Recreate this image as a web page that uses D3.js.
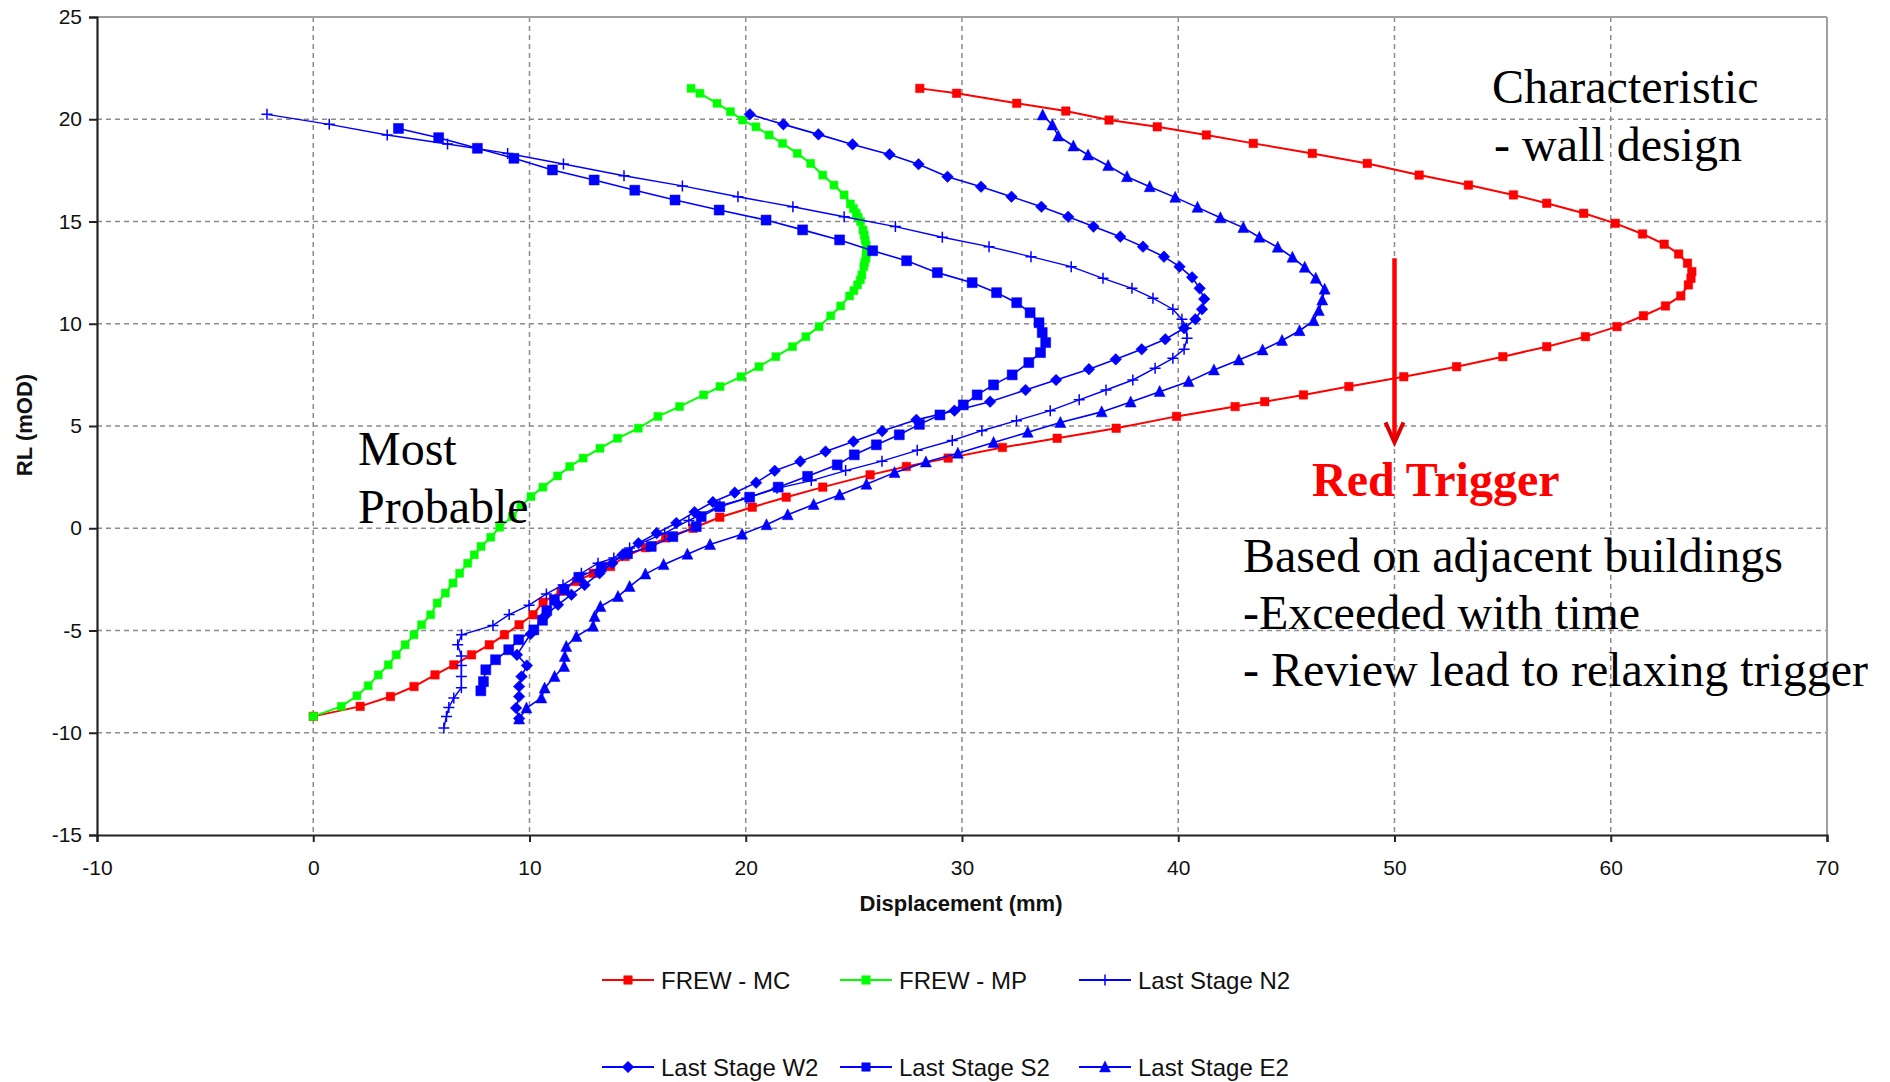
<!DOCTYPE html>
<html><head><meta charset="utf-8">
<script src="https://cdn.jsdelivr.net/npm/d3@7"></script>
<style>body{margin:0;background:#fff}svg{display:block}</style>
</head><body><svg id="c" width="1890" height="1082"></svg>
<script>
// ---------- DATA ----------
const xTicks = [-10,0,10,20,30,40,50,60,70];
const yTicks = [-15,-10,-5,0,5,10,15,20,25];

const seriesNames = ["FREW - MC","FREW - MP","Last Stage N2","Last Stage W2","Last Stage S2","Last Stage E2"];

// [displacement (mm), RL (mOD)]
const frewMC = [[0,-9.2],[2.17,-8.71],[3.57,-8.23],[4.66,-7.74],[5.63,-7.17],[6.5,-6.68],[7.32,-6.19],[8.14,-5.7],[8.84,-5.21],[9.52,-4.72],[10.16,-4.23],[10.63,-3.62],[11.46,-3.08],[12.17,-2.6],[12.95,-2.2],[13.75,-1.87],[14.42,-1.38],[15.36,-0.95],[16.3,-0.47],[17.56,0.0],[18.8,0.54],[20.3,1.03],[21.87,1.52],[23.56,2.01],[25.75,2.61],[27.43,3.02],[29.36,3.43],[31.87,3.95],[34.4,4.4],[37.13,4.89],[39.92,5.47],[42.63,5.95],[44.0,6.19],[45.79,6.52],[47.89,6.93],[50.43,7.41],[52.87,7.9],[55.01,8.39],[57.04,8.88],[58.83,9.37],[60.29,9.86],[61.51,10.39],[62.53,10.87],[63.24,11.36],[63.59,11.9],[63.71,12.22],[63.75,12.55],[63.55,12.96],[63.14,13.41],[62.47,13.89],[61.47,14.39],[60.21,14.91],[58.75,15.4],[57.04,15.89],[55.5,16.3],[53.42,16.78],[51.14,17.27],[48.74,17.84],[46.2,18.33],[43.47,18.82],[41.3,19.23],[39.03,19.63],[36.8,19.96],[34.8,20.4],[32.53,20.78],[29.75,21.27],[28.05,21.51]];

const frewMP = [[0,-9.2],[1.3,-8.71],[2.02,-8.19],[2.54,-7.7],[3.01,-7.17],[3.47,-6.68],[3.84,-6.19],[4.25,-5.7],[4.66,-5.21],[5.01,-4.72],[5.43,-4.23],[5.73,-3.66],[6.11,-3.17],[6.46,-2.68],[6.77,-2.2],[7.14,-1.71],[7.45,-1.3],[7.76,-0.89],[8.21,-0.44],[8.62,0.05],[9.2,0.57],[9.6,1.06],[10.07,1.55],[10.62,2.01],[11.3,2.56],[11.86,3.02],[12.48,3.43],[13.26,3.91],[14.07,4.4],[15.03,4.89],[15.94,5.47],[16.94,5.95],[18.05,6.52],[18.81,6.93],[19.78,7.41],[20.61,7.9],[21.39,8.39],[22.16,8.88],[22.78,9.37],[23.39,9.86],[23.93,10.39],[24.39,10.87],[24.8,11.36],[25.0,11.62],[25.17,11.9],[25.3,12.15],[25.37,12.39],[25.46,12.79],[25.5,13.0],[25.56,13.2],[25.57,13.4],[25.58,13.61],[25.57,13.85],[25.52,14.1],[25.48,14.35],[25.42,14.58],[25.31,14.99],[25.2,15.2],[25.11,15.4],[24.98,15.63],[24.84,15.86],[24.55,16.3],[24.08,16.78],[23.56,17.27],[23.0,17.84],[22.38,18.33],[21.7,18.82],[21.08,19.23],[20.47,19.63],[19.85,19.96],[19.29,20.37],[18.67,20.78],[17.88,21.27],[17.47,21.51]];

const stageN2 = [[-2.14,20.24],[0.74,19.75],[3.42,19.23],[6.21,18.79],[8.99,18.33],[11.57,17.81],[14.37,17.24],[17.07,16.74],[19.64,16.21],[22.18,15.72],[24.55,15.23],[26.92,14.75],[29.09,14.23],[31.25,13.77],[33.19,13.28],[35.05,12.79],[36.52,12.22],[37.86,11.73],[38.83,11.25],[39.75,10.71],[40.17,10.22],[40.37,9.78],[40.41,9.29],[40.27,8.75],[39.75,8.31],[38.93,7.83],[37.9,7.25],[36.66,6.76],[35.42,6.28],[34.08,5.75],[32.52,5.26],[30.92,4.77],[29.55,4.29],[27.93,3.81],[26.3,3.28],[24.62,2.82],[23.03,2.33],[21.45,1.95],[20.04,1.47],[18.8,1.1],[17.37,0.38],[16.25,-0.24],[14.63,-0.97],[13.9,-1.45],[13.17,-1.71],[12.4,-2.2],[11.55,-2.77],[10.78,-3.21],[9.98,-3.76],[9.06,-4.22],[8.31,-4.75],[6.86,-5.21],[6.68,-5.7],[6.85,-6.25],[6.85,-6.71],[6.85,-7.25],[6.85,-7.8],[6.5,-8.3],[6.27,-8.77],[6.16,-9.2],[6.04,-9.77]];

const stageW2 = [[20.19,20.24],[21.74,19.75],[23.36,19.26],[24.94,18.77],[26.65,18.28],[27.99,17.8],[29.33,17.19],[30.88,16.7],[32.29,16.21],[33.67,15.72],[34.91,15.23],[36.08,14.75],[37.32,14.26],[38.37,13.77],[39.34,13.28],[40.06,12.79],[40.64,12.27],[40.99,11.73],[41.2,11.21],[41.1,10.71],[40.79,10.22],[40.27,9.78],[39.4,9.24],[38.31,8.75],[37.11,8.26],[35.87,7.78],[34.35,7.25],[32.94,6.76],[31.3,6.19],[29.65,5.75],[27.89,5.3],[26.31,4.75],[24.98,4.24],[23.69,3.75],[22.52,3.27],[21.34,2.81],[20.48,2.23],[19.49,1.74],[18.48,1.28],[17.63,0.79],[16.79,0.26],[15.88,-0.24],[15.04,-0.73],[14.3,-1.3],[13.83,-1.71],[13.24,-2.2],[12.55,-2.77],[11.94,-3.25],[11.32,-3.74],[10.7,-4.3],[10.05,-5.17],[9.42,-6.19],[9.88,-6.71],[9.63,-7.25],[9.52,-7.74],[9.52,-8.23],[9.38,-8.79],[9.52,-9.3]];

const stageS2 = [[3.94,19.55],[5.8,19.1],[7.59,18.58],[9.28,18.09],[11.06,17.52],[12.99,17.03],[14.87,16.53],[16.73,16.05],[18.77,15.56],[20.94,15.07],[22.63,14.59],[24.34,14.1],[25.87,13.57],[27.44,13.08],[28.86,12.5],[30.47,12.01],[31.6,11.52],[32.53,11.03],[33.15,10.54],[33.56,10.05],[33.71,9.57],[33.87,9.08],[33.63,8.59],[33.09,8.1],[32.32,7.5],[31.46,7.01],[30.7,6.52],[30.06,6.03],[28.98,5.54],[28.03,5.08],[27.1,4.57],[26.04,4.08],[25.02,3.59],[24.23,3.1],[22.86,2.54],[21.5,2.01],[20.18,1.52],[18.8,1.05],[17.94,0.57],[17.71,0.08],[16.63,-0.41],[15.63,-0.89],[14.53,-1.25],[13.32,-1.9],[12.28,-2.4],[11.6,-3.0],[11.15,-3.5],[10.8,-4.03],[10.6,-4.5],[10.2,-4.97],[9.5,-5.45],[9.04,-5.94],[8.43,-6.43],[7.98,-6.92],[7.87,-7.5],[7.75,-7.95]];

const stageE2 = [[33.73,20.21],[34.18,19.72],[34.45,19.18],[35.15,18.69],[35.83,18.25],[36.76,17.73],[37.63,17.19],[38.68,16.7],[39.86,16.18],[40.89,15.69],[41.95,15.18],[43.01,14.7],[43.75,14.23],[44.6,13.74],[45.28,13.25],[45.85,12.76],[46.36,12.22],[46.77,11.69],[46.66,11.16],[46.5,10.64],[46.26,10.15],[45.61,9.66],[44.8,9.18],[43.9,8.72],[42.8,8.23],[41.65,7.74],[40.48,7.17],[39.14,6.68],[37.8,6.17],[36.46,5.69],[34.55,5.17],[33.04,4.69],[31.46,4.19],[29.81,3.67],[28.33,3.24],[26.88,2.72],[25.58,2.15],[24.34,1.63],[23.14,1.16],[21.94,0.66],[20.96,0.17],[19.83,-0.29],[18.35,-0.8],[17.3,-1.27],[16.2,-1.78],[15.36,-2.24],[14.63,-2.85],[14.09,-3.34],[13.28,-3.83],[13.01,-4.32],[12.94,-4.8],[12.17,-5.29],[11.7,-5.78],[11.63,-6.27],[11.6,-6.76],[11.16,-7.25],[10.7,-7.82],[10.55,-8.3],[9.86,-8.79],[9.52,-9.33]];

// Red trigger arrow: displacement 50 mm, from RL 13.2 down to 4.2
const triggerX = 50, triggerTop = 13.2, triggerBottom = 4.2;

// ---------- CHART ----------
const svg = d3.select("#c");
const x = d3.scaleLinear().domain([-10,70]).range([97,1827]);
const y = d3.scaleLinear().domain([-15,25]).range([835,17]);

const data = [frewMC, frewMP, stageN2, stageW2, stageS2, stageE2];
const styles = [
  {color:"#ff0000", lw:2,   marker:"sq",   size:8.5},
  {color:"#00ff00", lw:2,   marker:"sq",   size:8},
  {color:"#0000ff", lw:1.4, marker:"plus", size:5.5},
  {color:"#0000ff", lw:1.6, marker:"dia",  size:5.8},
  {color:"#0000ff", lw:1.6, marker:"sq",   size:10},
  {color:"#0000ff", lw:1.6, marker:"tri",  size:11}
];
function markerPath(type, s){
  if(type==="sq") return `M${-s/2},${-s/2}h${s}v${s}h${-s}Z`;
  if(type==="dia") return `M0,${-s}L${s},0L0,${s}L${-s},0Z`;
  if(type==="tri") return `M0,${-s*0.55}L${s/2},${s*0.45}L${-s/2},${s*0.45}Z`;
  return `M${-s},0H${s}M0,${-s}V${s}`;
}

// grid
const grid = svg.append("g");
grid.selectAll("line.v").data(xTicks.filter(t=>t>-10&&t<70)).join("line")
  .attr("x1",d=>x(d)).attr("x2",d=>x(d)).attr("y1",y(25)).attr("y2",y(-15))
  .attr("stroke","#8c8c8c").attr("stroke-width",1.5).attr("stroke-dasharray","5,4");
grid.selectAll("line.h").data(yTicks.filter(t=>t>-15&&t<25)).join("line")
  .attr("x1",x(-10)).attr("x2",x(70)).attr("y1",d=>y(d)).attr("y2",d=>y(d))
  .attr("stroke","#8c8c8c").attr("stroke-width",1.5).attr("stroke-dasharray","5,4");
// top and right border
svg.append("line").attr("x1",x(-10)).attr("x2",x(70)).attr("y1",y(25)).attr("y2",y(25)).attr("stroke","#a0a0a0").attr("stroke-width",2);
svg.append("line").attr("x1",x(70)).attr("x2",x(70)).attr("y1",y(25)).attr("y2",y(-15)).attr("stroke","#a0a0a0").attr("stroke-width",2);

// axes
const fmt = d => String(d);
const xAxis = d3.axisBottom(x).tickValues(xTicks).tickSize(7).tickPadding(18).tickFormat(fmt);
const yAxis = d3.axisLeft(y).tickValues(yTicks).tickSize(8).tickPadding(5).tickFormat(fmt);
const gx = svg.append("g").attr("transform",`translate(0,${y(-15)})`).call(xAxis);
const gy = svg.append("g").attr("transform",`translate(${x(-10)},0)`).call(yAxis);
[gx,gy].forEach(g=>{
  g.select(".domain").attr("stroke","#222").attr("stroke-width",2.2);
  g.selectAll(".tick line").attr("stroke","#222").attr("stroke-width",2);
  g.selectAll(".tick text").attr("font-family","'Liberation Sans',Arial,sans-serif").attr("font-size",21).attr("fill","#111");
});
gy.selectAll(".tick text").attr("dx",-2);

// axis titles
svg.append("text").attr("x",961).attr("y",911).attr("text-anchor","middle")
  .attr("font-family","'Liberation Sans',Arial,sans-serif").attr("font-weight","bold").attr("font-size",22)
  .attr("fill","#111").text("Displacement (mm)");
svg.append("text").attr("transform","translate(32,425) rotate(-90)").attr("text-anchor","middle")
  .attr("font-family","'Liberation Sans',Arial,sans-serif").attr("font-weight","bold").attr("font-size",22)
  .attr("fill","#111").text("RL (mOD)");

// series
const line = d3.line().x(d=>x(d[0])).y(d=>y(d[1]));
data.forEach((pts,i)=>{
  const st = styles[i];
  const g = svg.append("g");
  g.append("path").attr("d",line(pts)).attr("fill","none").attr("stroke",st.color).attr("stroke-width",st.lw);
  g.selectAll("path.m").data(pts).join("path").attr("class","m")
    .attr("transform",d=>`translate(${x(d[0])},${y(d[1])})`)
    .attr("d",markerPath(st.marker, st.size))
    .attr("fill", st.marker==="plus" ? "none" : st.color)
    .attr("stroke", st.color).attr("stroke-width", st.marker==="plus"?1.5:0.5);
});

// legend
const legX = [602, 840, 1079];
const legY = [980, 1067];
seriesNames.forEach((name,i)=>{
  const col = i%3, row = Math.floor(i/3);
  const lx = legX[col], ly = legY[row], st = styles[i];
  const g = svg.append("g");
  g.append("line").attr("x1",lx).attr("x2",lx+52).attr("y1",ly).attr("y2",ly).attr("stroke",st.color).attr("stroke-width",2);
  g.append("path").attr("transform",`translate(${lx+26},${ly})`).attr("d",markerPath(st.marker, st.marker==="sq"?8.5:(st.marker==="tri"?11:st.size)))
    .attr("fill", st.marker==="plus"?"none":st.color).attr("stroke",st.color).attr("stroke-width",st.marker==="plus"?1.5:0.5);
  g.append("text").attr("x",lx+59).attr("y",ly+8.5)
    .attr("font-family","'Liberation Sans',Arial,sans-serif").attr("font-size",24).attr("fill","#111").text(name);
});

// red trigger arrow
const ax = x(triggerX), ay1 = y(triggerTop), ay2 = y(triggerBottom);
svg.append("line").attr("x1",ax).attr("x2",ax).attr("y1",ay1).attr("y2",ay2-2)
  .attr("stroke","#ff0000").attr("stroke-width",4.5);
svg.append("path").attr("d",`M${ax-9},${ay2-20}L${ax},${ay2}L${ax+9},${ay2-20}`)
  .attr("fill","none").attr("stroke","#e00000").attr("stroke-width",4).attr("stroke-linejoin","miter");

// annotations
const serif = "'Liberation Serif','Times New Roman',serif";
const ann = [
  {t:"Characteristic", x:1492, y:103, c:"#000", w:"normal"},
  {t:"- wall design", x:1494, y:161, c:"#000", w:"normal"},
  {t:"Most", x:358, y:465, c:"#000", w:"normal"},
  {t:"Probable", x:358, y:523, c:"#000", w:"normal"},
  {t:"Red Trigger", x:1312, y:496, c:"#ff0000", w:"bold"},
  {t:"Based on adjacent buildings", x:1243, y:572, c:"#000", w:"normal"},
  {t:"-Exceeded with time", x:1243, y:629, c:"#000", w:"normal"},
  {t:"- Review lead to relaxing trigger", x:1243, y:686, c:"#000", w:"normal"}
];
ann.forEach(a=>{
  svg.append("text").attr("x",a.x).attr("y",a.y).attr("font-family",serif).attr("font-size",48)
    .attr("font-weight",a.w).attr("fill",a.c).text(a.t);
});
</script>
</body></html>
